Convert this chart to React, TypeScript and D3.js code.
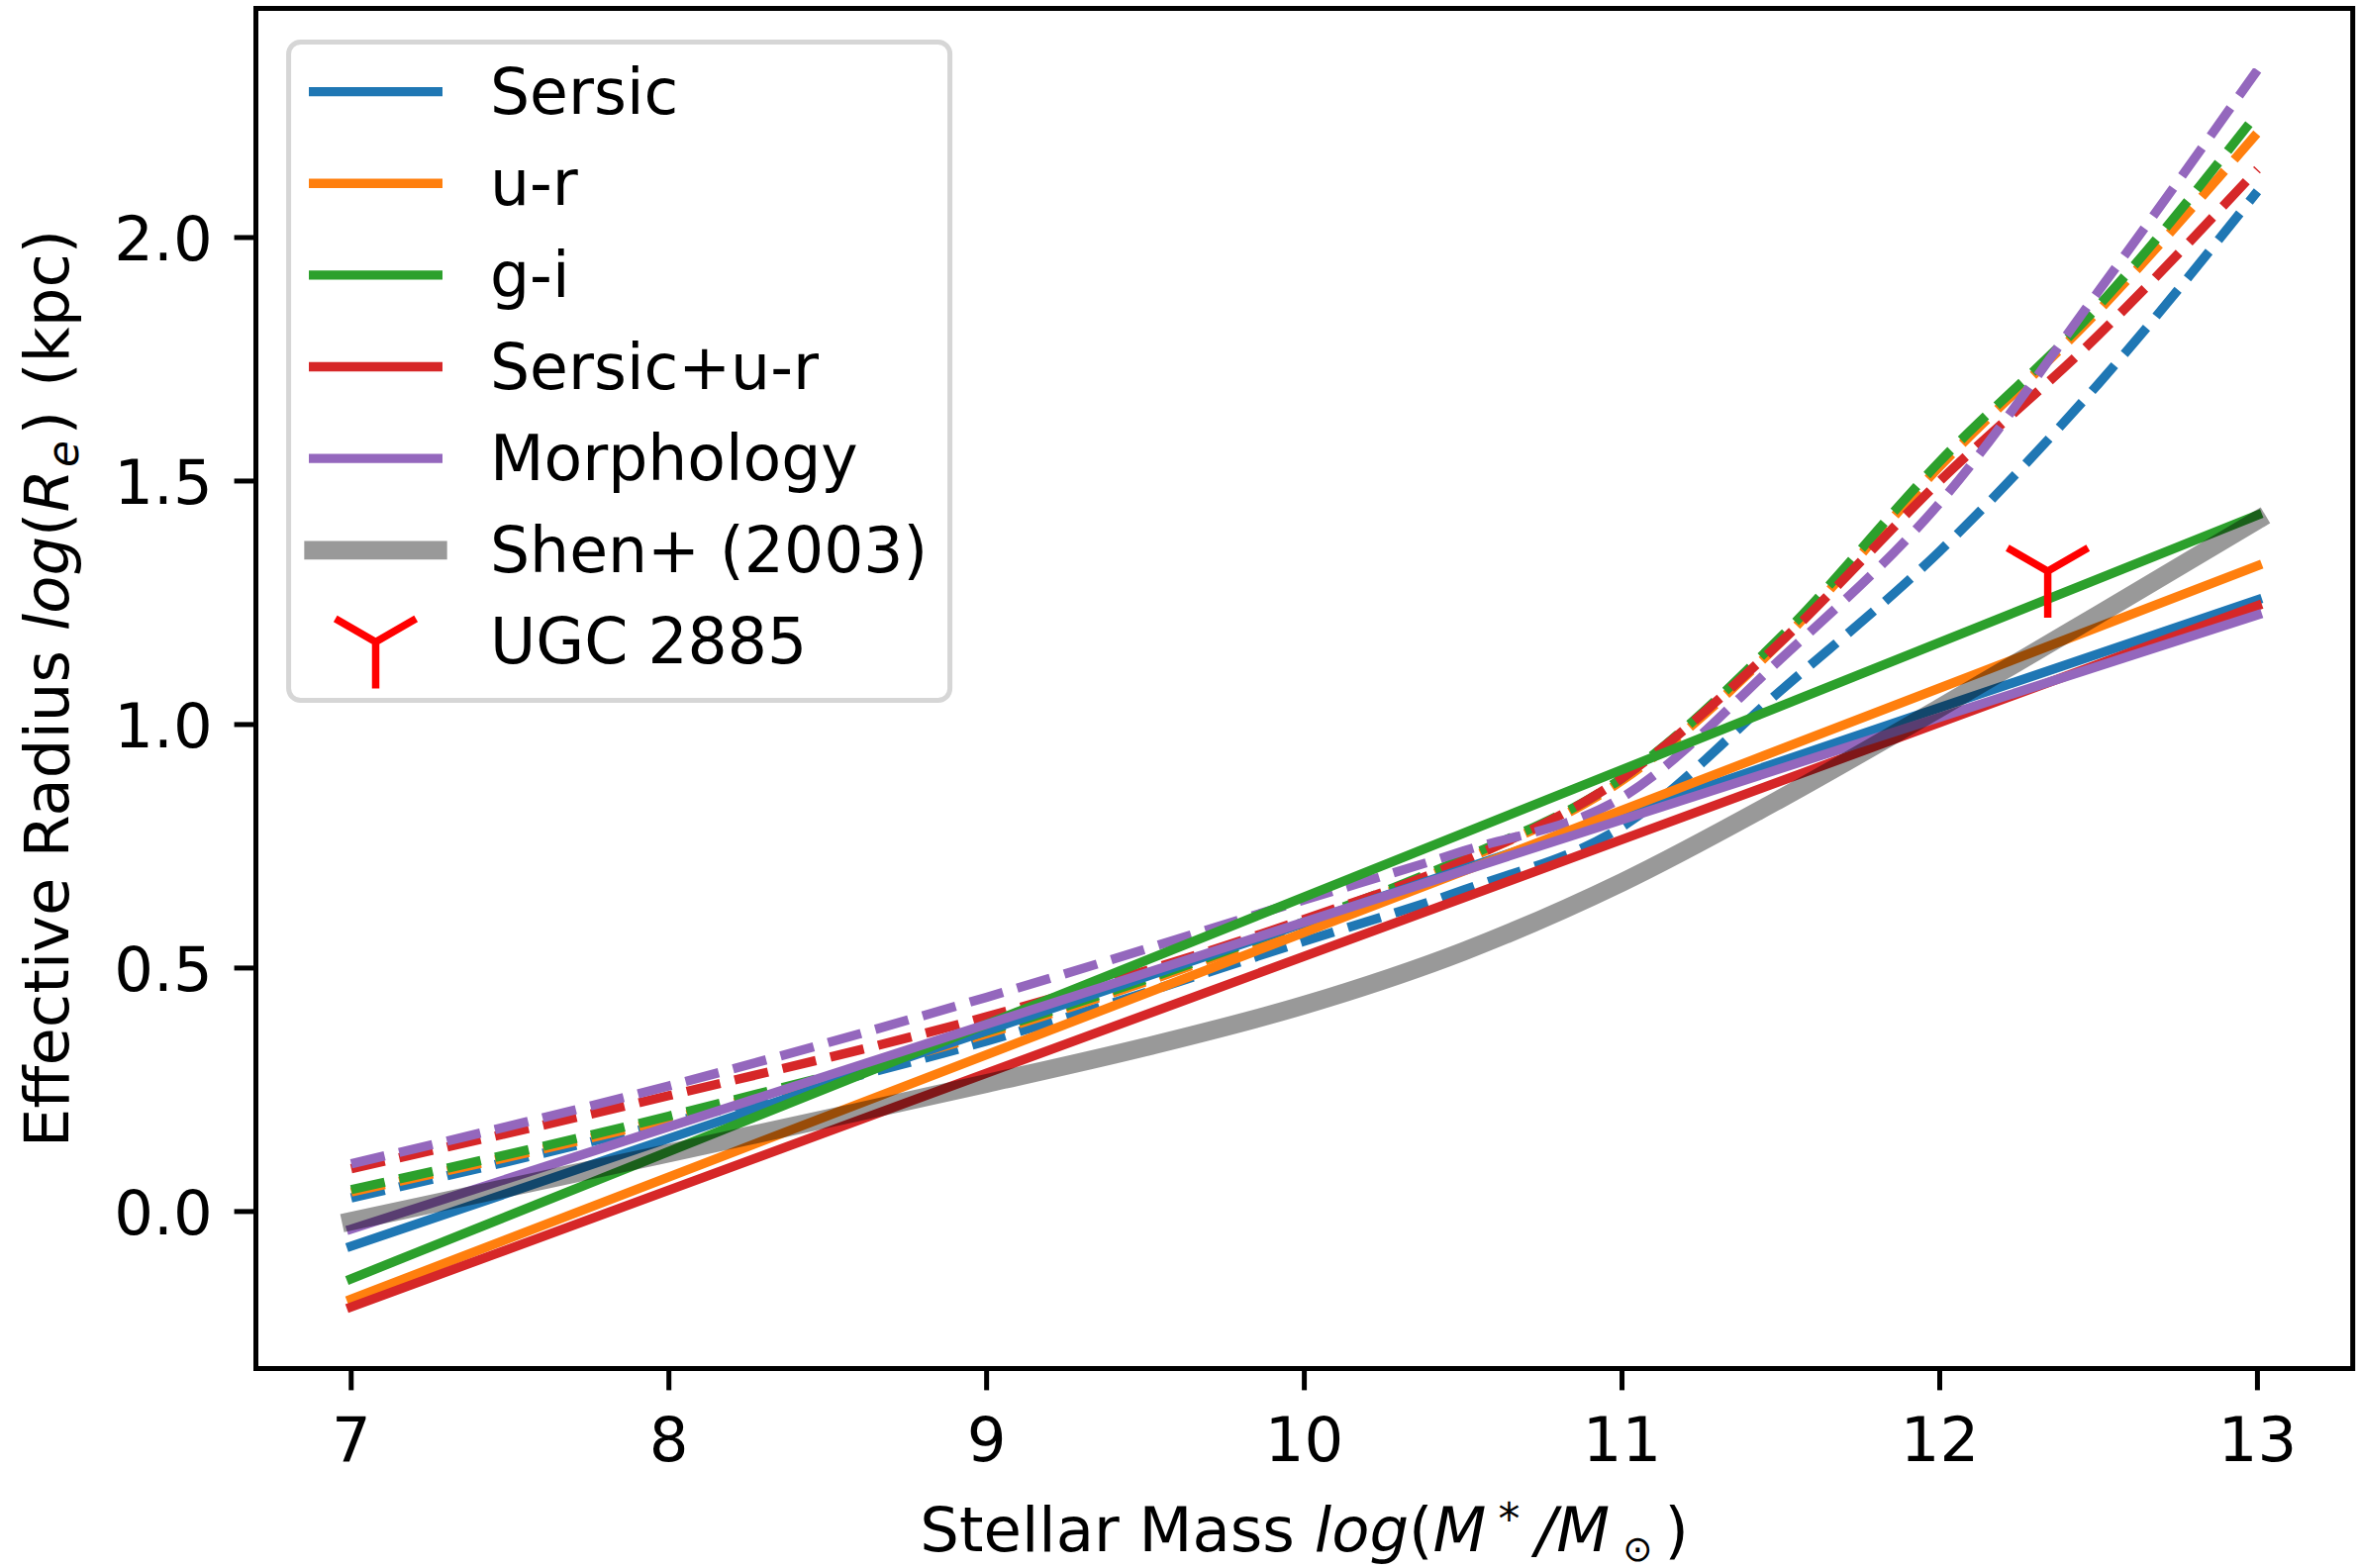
import React from 'react';
import * as d3 from 'd3';

const W = 2381;
const H = 1584;

const modelNames = ['Sersic', 'u-r', 'g-i', 'Sersic+u-r', 'Morphology'];
const modelColors = ['#1f77b4', '#ff7f0e', '#2ca02c', '#d62728', '#9467bd'];

// solid (linear) relations
const solidX = [7, 13];
const sersicSolid = [-0.071, 1.256];
const urSolid = [-0.18, 1.326];
const giSolid = [-0.138, 1.43];
const sersicUrSolid = [-0.196, 1.244];
const morphSolid = [-0.036, 1.225];

// dashed (curved) relations
const dashX = [7, 8, 9, 10, 10.5, 11, 11.5, 12, 12.5, 13];
const sersicDash = [0.028, 0.182, 0.35, 0.555, 0.66, 0.79, 1.07, 1.356, 1.7, 2.095];
const urDash = [0.04, 0.19, 0.365, 0.59, 0.72, 0.885, 1.17, 1.53, 1.85, 2.215];
const giDash = [0.045, 0.196, 0.37, 0.595, 0.725, 0.89, 1.18, 1.54, 1.86, 2.255];
const sersicUrDash = [0.088, 0.238, 0.4, 0.6, 0.72, 0.89, 1.17, 1.5, 1.8, 2.14];
const morphDash = [0.098, 0.258, 0.44, 0.64, 0.74, 0.85, 1.135, 1.455, 1.89, 2.344];

// Shen+ (2003)
const shenX = [7, 7.5, 8, 8.5, 9, 9.5, 10, 10.5, 11, 11.5, 12, 12.5, 13];
const shenY = [-0.02, 0.05, 0.12, 0.191, 0.263, 0.338, 0.424, 0.534, 0.676, 0.848, 1.034, 1.226, 1.42];

// UGC 2885
const ugcX = [12.34];
const ugcY = [1.315];

const xTicks = [7, 8, 9, 10, 11, 12, 13];
const yTicks = [0.0, 0.5, 1.0, 1.5, 2.0];

const legendLabels = ['Sersic', 'u-r', 'g-i', 'Sersic+u-r', 'Morphology', 'Shen+ (2003)', 'UGC 2885'];

const solids = [sersicSolid, urSolid, giSolid, sersicUrSolid, morphSolid];
const dashes = [sersicDash, urDash, giDash, sersicUrDash, morphDash];

const FONT = 'DejaVu Sans';
const FS = 62.5;
const LW = 9.375;

export default function App() {
  const left = 258.5, right = 2376.7, top = 8.5, bottom = 1382.5;
  const x = d3.scaleLinear().domain([6.7, 13.3]).range([left, right]);
  const y = d3.scaleLinear().domain([-0.3224, 2.4705]).range([bottom, top]);

  const lineLinear = d3.line<[number, number]>().x(d => x(d[0])).y(d => y(d[1]));
  const lineCurve = d3.line<[number, number]>().x(d => x(d[0])).y(d => y(d[1])).curve(d3.curveMonotoneX);

  const zip = (xs: number[], ys: number[]) => xs.map((v, i) => [v, ys[i]] as [number, number]);

  const tickLen = 21.9;
  const spineW = 5;

  const r = 47;
  const triDown = (cx: number, cy: number) =>
    `M${cx},${cy}L${cx},${cy + r}M${cx},${cy}L${cx - 0.866 * r},${cy - 0.5 * r}M${cx},${cy}L${cx + 0.866 * r},${cy - 0.5 * r}`;

  // legend geometry
  const legX = 291.6, legY = 42.5, legW = 668, legH = 665;
  const rowCenters = [92.6, 185.3, 277.9, 370.5, 463.1, 555.8, 648.4];
  const hx0 = 316.7, hx1 = 442.3, textX = 495;

  return (
    <svg width={W} height={H} style={{ position: 'absolute', left: 0, top: 0 }} fontFamily={FONT}>
      <rect x={0} y={0} width={W} height={H} fill="#ffffff" />
      {/* dashed curves */}
      {dashes.map((ys, i) => (
        <path key={'d' + i} d={lineCurve(zip(dashX, ys)) || ''} fill="none" stroke={modelColors[i]}
          strokeWidth={LW} strokeDasharray="34.7 15" strokeLinecap="butt" strokeLinejoin="round" />
      ))}
      {/* solid lines */}
      {solids.map((ys, i) => (
        <path key={'s' + i} d={lineLinear(zip(solidX, ys)) || ''} fill="none" stroke={modelColors[i]}
          strokeWidth={LW} strokeLinecap="square" />
      ))}
      {/* Shen */}
      <path d={lineCurve(zip(shenX, shenY)) || ''} fill="none" stroke="#000000" strokeOpacity={0.4}
        strokeWidth={18.75} strokeLinecap="square" strokeLinejoin="round" />
      {/* UGC 2885 */}
      {ugcX.map((v, i) => (
        <path key={'u' + i} d={triDown(x(v), y(ugcY[i]))} stroke="#ff0000" strokeWidth={7.5} fill="none" />
      ))}

      {/* spines */}
      <rect x={left} y={top} width={right - left} height={bottom - top} fill="none" stroke="#000" strokeWidth={spineW} />

      {/* x ticks */}
      {xTicks.map(t => (
        <g key={'xt' + t}>
          <line x1={x(t)} x2={x(t)} y1={bottom} y2={bottom + tickLen} stroke="#000" strokeWidth={spineW} />
          <text x={x(t)} y={1476} fontSize={FS} textAnchor="middle" fill="#000">{String(t)}</text>
        </g>
      ))}
      {/* y ticks */}
      {yTicks.map(t => (
        <g key={'yt' + t}>
          <line x1={left - tickLen} x2={left} y1={y(t)} y2={y(t)} stroke="#000" strokeWidth={spineW} />
          <text x={214.7} y={y(t) + 22.8} fontSize={FS} textAnchor="end" fill="#000">{t.toFixed(1)}</text>
        </g>
      ))}

      {/* x label */}
      <text x={(left + right) / 2} y={1567} fontSize={FS} textAnchor="middle" fill="#000">
        <tspan>Stellar Mass </tspan>
        <tspan fontStyle="italic">log</tspan>
        <tspan>(</tspan>
        <tspan fontStyle="italic">M</tspan>
        <tspan dx={12} dy={-17} fontSize={43.75}>*</tspan>
        <tspan dx={16} dy={17} fontStyle="italic">/</tspan>
        <tspan fontStyle="italic">M</tspan>
        <tspan dx={13} dy={10} fontSize={36}>⊙</tspan>
        <tspan dx={12} dy={-10}>)</tspan>
      </text>

      {/* y label */}
      <text transform={`translate(69,${(top + bottom) / 2}) rotate(-90)`} fontSize={FS} textAnchor="middle" fill="#000">
        <tspan>Effective Radius </tspan>
        <tspan fontStyle="italic">log</tspan>
        <tspan>(</tspan>
        <tspan fontStyle="italic">R</tspan>
        <tspan dx={2} dy={10} fontSize={43.75} fontStyle="italic">e</tspan>
        <tspan dx={6} dy={-10}>)</tspan>
        <tspan dx={4}> (kpc)</tspan>
      </text>

      {/* legend */}
      <rect x={legX} y={legY} width={legW} height={legH} rx={12} ry={12} fill="#ffffff" fillOpacity={0.8}
        stroke="#d6d6d6" strokeWidth={5} />
      {legendLabels.map((lab, i) => {
        const cy = rowCenters[i];
        let handle;
        if (i < 5) {
          handle = <line x1={hx0} x2={hx1} y1={cy} y2={cy} stroke={modelColors[i]} strokeWidth={LW} strokeLinecap="square" />;
        } else if (i === 5) {
          handle = <line x1={hx0} x2={hx1} y1={cy} y2={cy} stroke="#000" strokeOpacity={0.4} strokeWidth={18.75} strokeLinecap="square" />;
        } else {
          handle = <path d={triDown((hx0 + hx1) / 2, cy)} stroke="#ff0000" strokeWidth={7.5} fill="none" />;
        }
        return (
          <g key={'lg' + i}>
            {handle}
            <text x={textX} y={cy + 22} fontSize={63.2} fill="#000">{lab}</text>
          </g>
        );
      })}
    </svg>
  );
}
